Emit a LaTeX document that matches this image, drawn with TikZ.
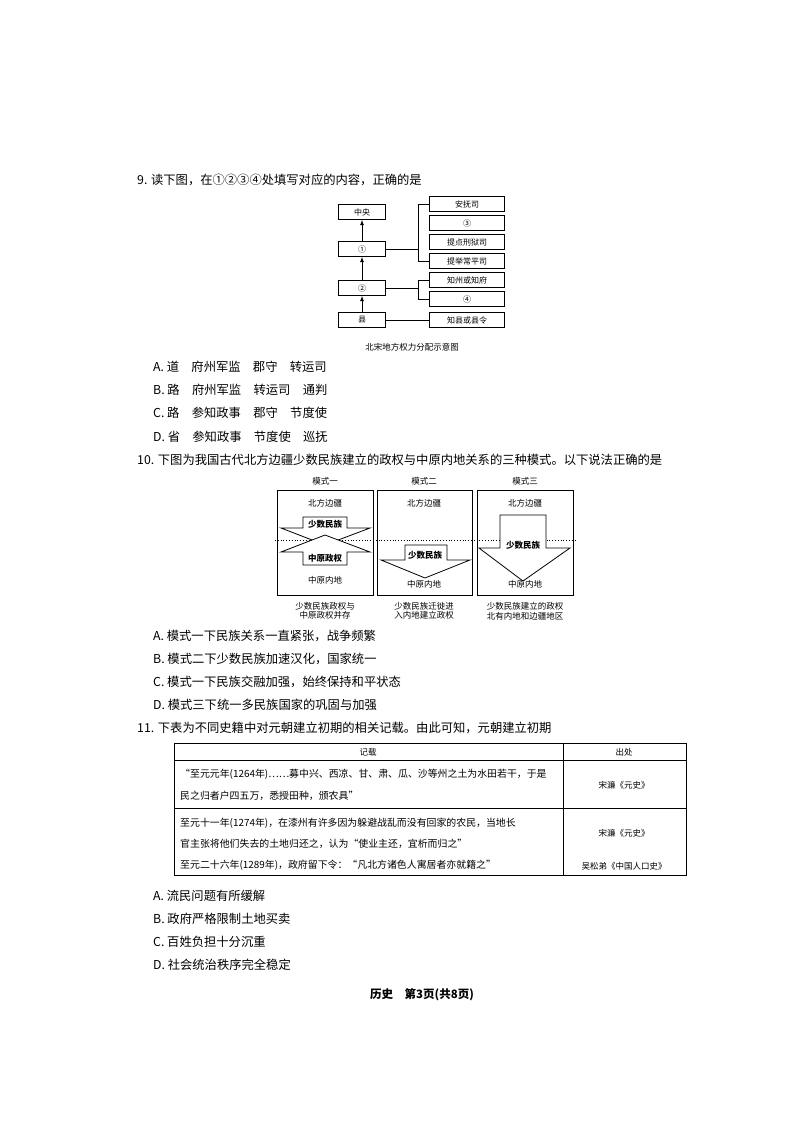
\documentclass[tikz,border=0pt]{standalone}
\usepackage{fontspec}
\setmainfont{Noto Sans CJK SC}
\begin{document}
\begin{tikzpicture}[x=1pt,y=-1pt,
  txt/.style={anchor=west,inner sep=0pt,font=\fontsize{12.3}{13}\selectfont},
  sm/.style={inner sep=0pt,font=\fontsize{8.5}{9.5}\selectfont},
  smb/.style={inner sep=0pt,font=\fontsize{8.5}{9.5}\selectfont\bfseries},
  tb/.style={anchor=west,inner sep=0pt,font=\fontsize{9.9}{11}\selectfont},
  bx/.style={draw,thick,minimum width=47pt,minimum height=15pt,inner sep=0pt,font=\fontsize{8}{9}\selectfont},
  rb/.style={draw,thick,minimum width=75pt,minimum height=15pt,inner sep=0pt,font=\fontsize{8}{9}\selectfont},
  ar/.style={draw,thick,fill=white}]
\useasboundingbox (0,0) rectangle (794,1122);
% Q9
\node[txt] (q9) at (137,180) {9. 读下图，在①②③④处填写对应的内容，正确的是};
\node[bx] (zy) at (362,212) {中央};
\node[bx] (n1) at (362,249) {①};
\node[bx] (n2) at (362,288) {②};
\node[bx] (xian) at (362,320) {县};
\draw[thick,-latex] (xian) -- (n2);
\draw[thick,-latex] (n2) -- (n1);
\draw[thick,-latex] (n1) -- (zy);
\node[rb] (r1) at (467,204) {安抚司};
\node[rb] (r2) at (467,223) {③};
\node[rb] (r3) at (467,242) {提点刑狱司};
\node[rb] (r4) at (467,261) {提举常平司};
\node[rb] (r5) at (467,280) {知州或知府};
\node[rb] (r6) at (467,299) {④};
\node[rb] (r7) at (467,320) {知县或县令};
\coordinate (b1) at (418,249);
\coordinate (b2) at (418,288);
\draw (n1.east) -- (b1);
\draw (r1.west) -- ++(-11,0) |- (r4.west);
\draw (n2.east) -- (b2);
\draw (r5.west) -- ++(-11,0) |- (r6.west);
\draw (xian.east) -- (r7.west);
\node[sm] (cap9) at (412,347) {北宋地方权力分配示意图};
\node[txt] (a9) at (153,367) {A. 道\quad 府州军监\quad 郡守\quad 转运司};
\node[txt] (b9) at (153,390) {B. 路\quad 府州军监\quad 转运司\quad 通判};
\node[txt] (c9) at (153,413) {C. 路\quad 参知政事\quad 郡守\quad 节度使};
\node[txt] (d9) at (153,437) {D. 省\quad 参知政事\quad 节度使\quad 巡抚};
% Q10
\node[txt] (q10) at (137,460) {10. 下图为我国古代北方边疆少数民族建立的政权与中原内地关系的三种模式。以下说法正确的是};
\node[sm] (m1) at (325,481) {模式一};
\node[sm] (m2) at (424,481) {模式二};
\node[sm] (m3) at (525,481) {模式三};
\draw[thick] (277,490) rectangle (373,595);
\draw[thick] (377,490) rectangle (472,595);
\draw[thick] (477,490) rectangle (573,595);
\draw[thick,dotted] (275,540) -- (575,540);
\foreach \x/\n in {325/a,424/b,525/c}{\node[sm] (nb\n) at (\x,503) {北方边疆};}
% mode 1
\draw[ar] (303,517) -- (347,517) -- (347,528) -- (370,528) -- (325,545) -- (281,528) -- (303,528) -- cycle;
\draw[ar] (303,565) -- (347,565) -- (347,552) -- (370,552) -- (325,535) -- (281,552) -- (303,552) -- cycle;
\node[smb] (s1) at (325,524) {少数民族};
\node[smb] (z1) at (325,558) {中原政权};
\node[sm] (zn1) at (325,580) {中原内地};
% mode 2
\draw[ar] (405,545) -- (447,545) -- (447,560) -- (470,560) -- (425,578) -- (381,560) -- (405,560) -- cycle;
\node[smb] (s2) at (425,555) {少数民族};
\node[sm] (zn2) at (424,584) {中原内地};
% mode 3
\draw[ar] (500,515) -- (546,515) -- (546,548) -- (570,548) -- (523,581) -- (479,548) -- (500,548) -- cycle;
\node[smb] (s3) at (523,545) {少数民族};
\node[sm] (zn3) at (525,584) {中原内地};
\node[sm,align=center] (c1) at (325,611) {少数民族政权与\\中原政权并存};
\node[sm,align=center] (c2) at (424,611) {少数民族迁徙进\\入内地建立政权};
\node[sm,align=center] (c3) at (525,611) {少数民族建立的政权\\北有内地和边疆地区};
\node[txt] (a10) at (153,636) {A. 模式一下民族关系一直紧张，战争频繁};
\node[txt] (b10) at (153,659) {B. 模式二下少数民族加速汉化，国家统一};
\node[txt] (c10) at (153,682) {C. 模式一下民族交融加强，始终保持和平状态};
\node[txt] (d10) at (153,705) {D. 模式三下统一多民族国家的巩固与加强};
% Q11
\node[txt] (q11) at (137,728) {11. 下表为不同史籍中对元朝建立初期的相关记载。由此可知，元朝建立初期};
\draw[thick] (174,743) rectangle (686,875);
\draw (563,743) -- (563,875);
\draw (174,760) -- (686,760);
\draw (174,808) -- (686,808);
\node[sm] (h1) at (368,752) {记载};
\node[sm] (h2) at (624,752) {出处};
\node[tb] (t1) at (180,774) {“至元元年(1264年)……募中兴、西凉、甘、肃、瓜、沙等州之土为水田若干，于是};
\node[tb] (t2) at (180,796) {民之归者户四五万，悉授田种，颁农具”};
\node[tb] (t3) at (180,823) {至元十一年(1274年)，在漆州有许多因为躲避战乱而没有回家的农民，当地长};
\node[tb] (t4) at (180,844) {官主张将他们失去的土地归还之，认为“使业主还，宜析而归之”};
\node[tb] (t5) at (180,865) {至元二十六年(1289年)，政府留下令：“凡北方诸色人寓居者亦就籍之”};
\node[sm] (s1r) at (624,785) {宋濂《元史》};
\node[sm] (s2r) at (624,833) {宋濂《元史》};
\node[sm] (s3r) at (624,866) {吴松弟《中国人口史》};
\node[txt] (a11) at (153,896) {A. 流民问题有所缓解};
\node[txt] (b11) at (153,919) {B. 政府严格限制土地买卖};
\node[txt] (c11) at (153,942) {C. 百姓负担十分沉重};
\node[txt] (d11) at (153,965) {D. 社会统治秩序完全稳定};
\node[inner sep=0pt,font=\fontsize{11.5}{12}\selectfont\bfseries] (ft) at (422,995) {历史\quad 第3页(共8页)};
\end{tikzpicture}
\end{document}
